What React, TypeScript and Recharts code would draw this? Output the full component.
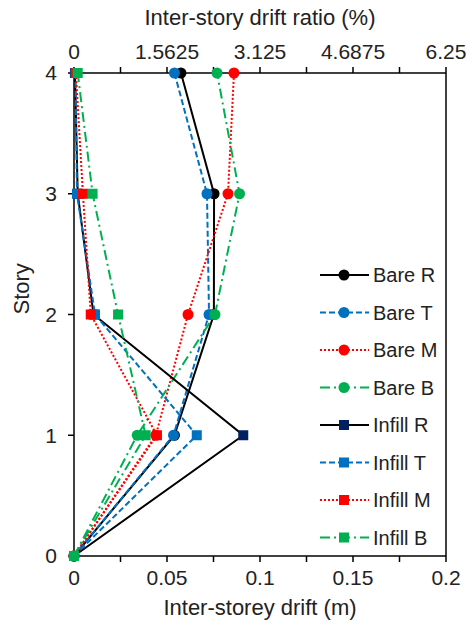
import {
  ScatterChart,
  Scatter,
  XAxis,
  YAxis,
  ReferenceLine,
  Legend,
} from "recharts";

const stories = [0, 1, 2, 3, 4];

const bareR = [0, 0.054, 0.0752, 0.0753, 0.0575];
const bareT = [0, 0.0535, 0.0726, 0.0715, 0.054];
const bareM = [0, 0.044, 0.0613, 0.0828, 0.086];
const bareB = [0, 0.034, 0.0758, 0.089, 0.0769];
const infillR = [0, 0.091, 0.0105, 0.002, 0.0005];
const infillT = [0, 0.066, 0.0113, 0.0016, 0.0008];
const infillM = [0, 0.0446, 0.009, 0.0048, 0.001];
const infillB = [0, 0.0385, 0.0237, 0.01, 0.002];

// 0.2 m drift = 6.25 % (storey height 3.2 m)
const STOREY_HEIGHT = 3.2;

const bottomTicks = [0, 0.025, 0.05, 0.075, 0.1, 0.125, 0.15, 0.175, 0.2];
const topTicks = [0, 0.78125, 1.5625, 2.34375, 3.125, 3.90625, 4.6875, 5.46875, 6.25];
const storyTicks = [0, 1, 2, 3, 4];

const FONT = "'Liberation Sans', Arial, sans-serif";

interface Series {
  name: string;
  values: number[];
  color: string;
  lineColor: string;
  dash?: string;
  marker: "circle" | "square";
}

const series: Series[] = [
  { name: "Bare R", values: bareR, color: "#000000", lineColor: "#000000", marker: "circle" },
  { name: "Bare T", values: bareT, color: "#0070C0", lineColor: "#0070C0", dash: "6 3", marker: "circle" },
  { name: "Bare M", values: bareM, color: "#FF0000", lineColor: "#FF0000", dash: "2 2", marker: "circle" },
  { name: "Bare B", values: bareB, color: "#00B050", lineColor: "#00B050", dash: "10 4 2 4", marker: "circle" },
  { name: "Infill R", values: infillR, color: "#002060", lineColor: "#000000", marker: "square" },
  { name: "Infill T", values: infillT, color: "#0070C0", lineColor: "#0070C0", dash: "6 3", marker: "square" },
  { name: "Infill M", values: infillM, color: "#FF0000", lineColor: "#FF0000", dash: "2 2", marker: "square" },
  { name: "Infill B", values: infillB, color: "#00B050", lineColor: "#00B050", dash: "10 4 2 4", marker: "square" },
];

// same points expressed as drift ratio, only so the top axis gets a scale
const ratioPoints = series.flatMap((s) =>
  s.values.map((v, i) => ({ y: stories[i], pct: (v / STOREY_HEIGHT) * 100 }))
);

function Marker({ cx, cy, s }: { cx: number; cy: number; s: Series }) {
  if (s.marker === "circle") return <circle cx={cx} cy={cy} r={5.5} fill={s.color} />;
  return <rect x={cx - 5} y={cy - 5} width={10} height={10} fill={s.color} />;
}

function LegendBox() {
  return (
    <svg width={130} height={300}>
      {series.map((s, i) => {
        const y = 15 + i * 37.5;
        return (
          <g key={s.name}>
            <line x1={2} x2={51} y1={y} y2={y} stroke={s.lineColor} strokeWidth={2} strokeDasharray={s.dash} />
            <Marker cx={26} cy={y} s={s} />
            <text x={55} y={y + 7} fontSize={20} fontFamily={FONT} fill="#222">
              {s.name}
            </text>
          </g>
        );
      })}
    </svg>
  );
}

const tickStyle = { fill: "#222", fontSize: 21, fontFamily: FONT };
const titleStyle = { fill: "#222", fontSize: 22, fontFamily: FONT };

export default function App() {
  return (
    <div style={{ position: "absolute", left: 0, top: 0 }}>
      <ScatterChart width={474} height={626} margin={{ top: 33, right: 28, bottom: 10, left: 24 }}>
        <XAxis
          xAxisId="bottom"
          type="number"
          dataKey="x"
          domain={[0, 0.2]}
          ticks={bottomTicks}
          interval={0}
          tickFormatter={(v: number, i: number) => (i % 2 === 0 ? String(v) : "")}
          tick={tickStyle}
          fontSize={21}
          fontFamily={FONT}
          axisLine={{ stroke: "#000", strokeWidth: 1.5 }}
          tickLine={{ stroke: "#000", strokeWidth: 1.5 }}
          tickSize={6}
          tickMargin={8}
          height={60}
          label={{ value: "Inter-storey drift (m)", position: "insideBottom", offset: 1, ...titleStyle }}
        />
        <XAxis
          xAxisId="top"
          orientation="top"
          type="number"
          dataKey="pct"
          domain={[0, 6.25]}
          allowDataOverflow
          ticks={topTicks}
          interval={0}
          tickFormatter={(v: number, i: number) => (i % 2 === 0 ? String(v) : "")}
          tick={tickStyle}
          fontSize={21}
          fontFamily={FONT}
          axisLine={{ stroke: "#000", strokeWidth: 1.5 }}
          tickLine={{ stroke: "#000", strokeWidth: 1.5 }}
          tickSize={6}
          tickMargin={8}
          height={40}
          label={{ value: "Inter-story drift ratio (%)", position: "insideTop", offset: -24, ...titleStyle }}
        />
        <YAxis
          type="number"
          dataKey="y"
          domain={[0, 4]}
          ticks={storyTicks}
          interval={0}
          tick={tickStyle}
          fontSize={21}
          fontFamily={FONT}
          axisLine={{ stroke: "#000", strokeWidth: 1.5 }}
          tickLine={{ stroke: "#000", strokeWidth: 1.5 }}
          tickSize={6}
          tickMargin={11}
          width={50}
          label={{ value: "Story", angle: -90, position: "insideLeft", offset: -3, ...titleStyle }}
        />
        <ReferenceLine xAxisId="bottom" x={0.2} stroke="#000" strokeWidth={1.5} />
        <Scatter
          name="ratio"
          xAxisId="top"
          data={ratioPoints}
          dataKey="pct"
          shape={() => <g />}
          legendType="none"
          isAnimationActive={false}
        />
        {series.map((s) => (
          <Scatter
            key={s.name}
            name={s.name}
            xAxisId="bottom"
            data={stories.map((st, i) => ({ y: st, x: s.values[i] }))}
            fill={s.color}
            line={{ stroke: s.lineColor, strokeWidth: 2, strokeDasharray: s.dash }}
            lineJointType="linear"
            shape={(p: any) => <Marker cx={p.cx} cy={p.cy} s={s} />}
            isAnimationActive={false}
          />
        ))}
        <Legend
          layout="vertical"
          align="center"
          verticalAlign="middle"
          content={() => <LegendBox />}
          wrapperStyle={{ left: 318, top: 260, width: 130, height: 300 }}
        />
      </ScatterChart>
    </div>
  );
}
